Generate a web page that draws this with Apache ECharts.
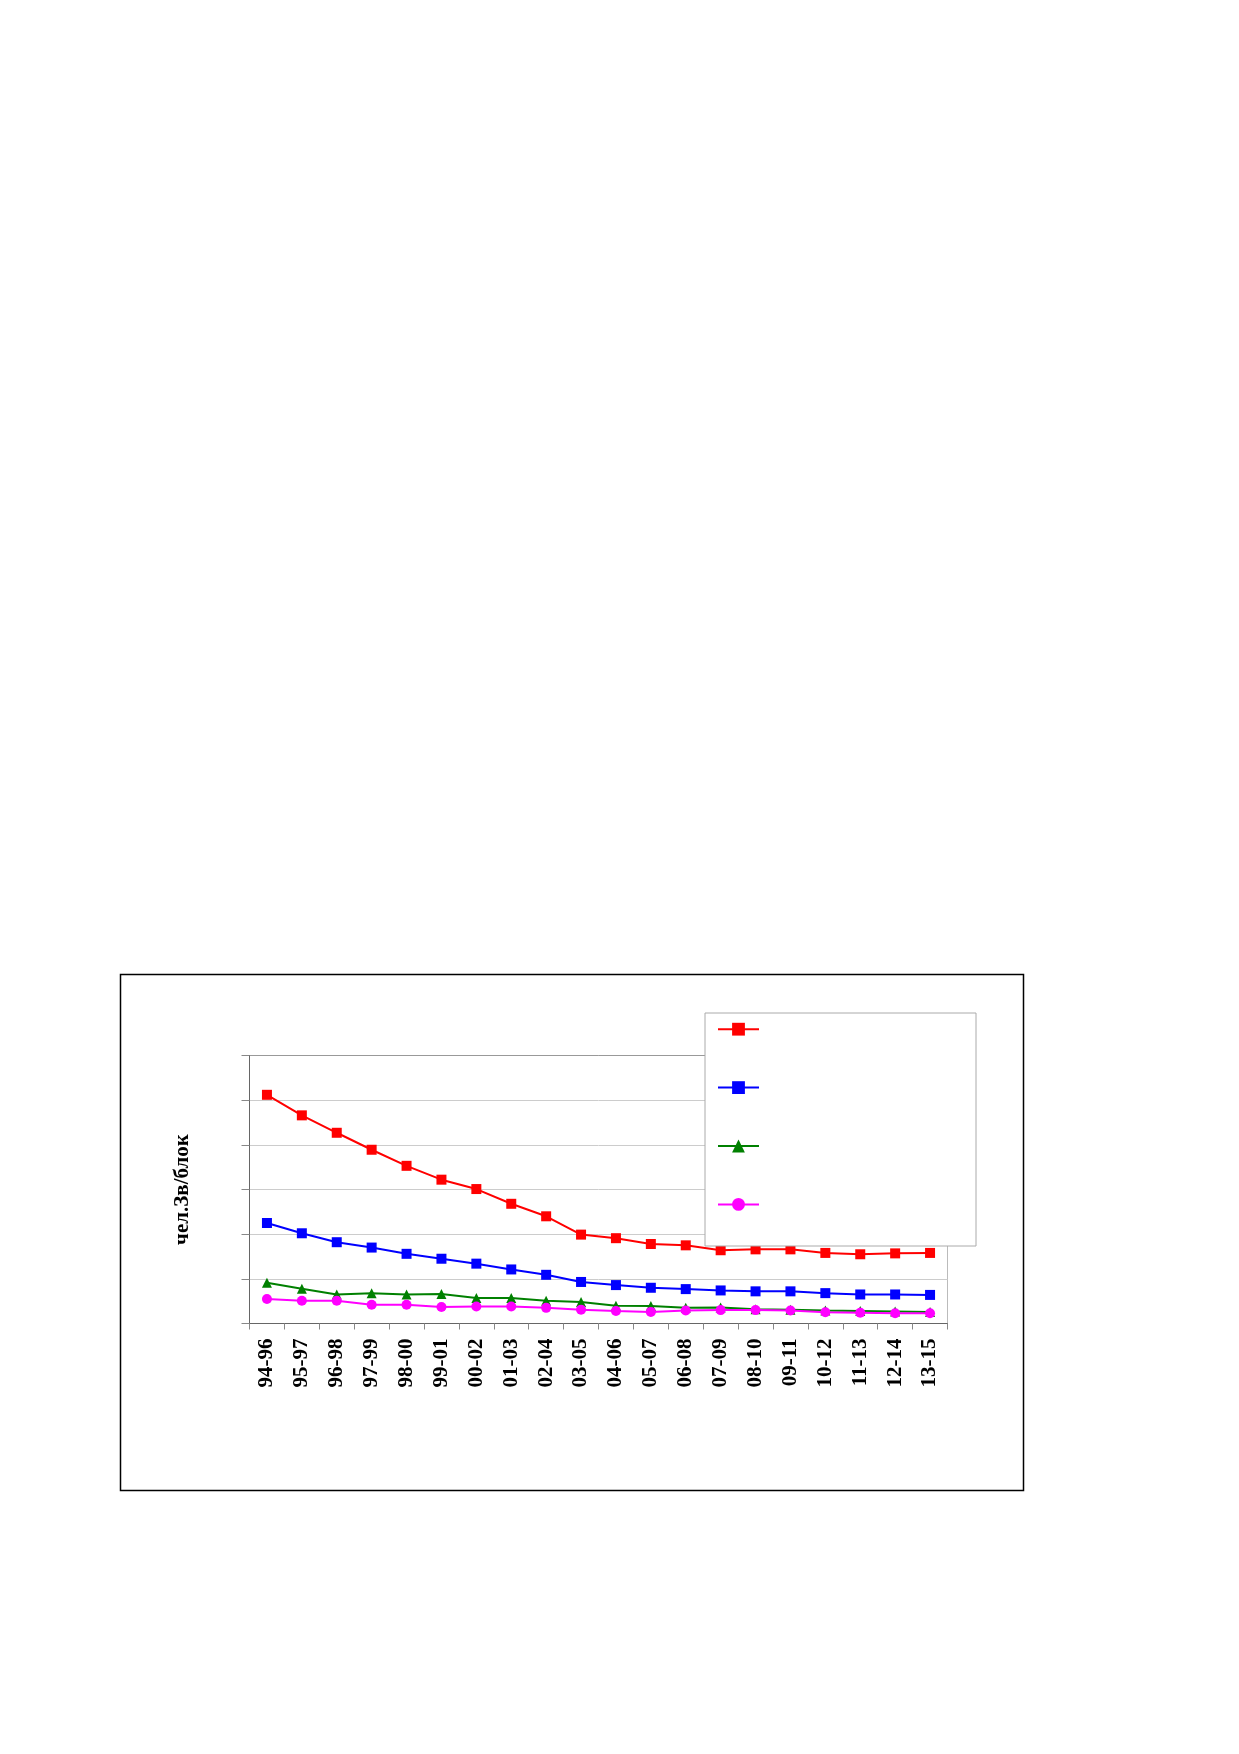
<!DOCTYPE html>
<html>
<head>
<meta charset="utf-8">
<style>
html,body{margin:0;padding:0;background:#fff;}
#chart{width:1239px;height:1754px;}
</style>
<script src="https://cdn.jsdelivr.net/npm/echarts@6/dist/echarts.min.js"></script>
</head>
<body>
<div id="chart"></div>
<script>
const categories = ['94-96','95-97','96-98','97-99','98-00','99-01','00-02','01-03','02-04','03-05','04-06','05-07','06-08','07-09','08-10','09-11','10-12','11-13','12-14','13-15'];
const seriesRed = [5.12,4.66,4.27,3.89,3.53,3.22,3.01,2.68,2.40,1.99,1.91,1.78,1.75,1.64,1.66,1.66,1.58,1.55,1.57,1.58];
const seriesBlue = [2.25,2.02,1.82,1.70,1.56,1.45,1.34,1.21,1.09,0.93,0.86,0.80,0.77,0.74,0.72,0.72,0.68,0.65,0.65,0.64];
const seriesGreen = [0.91,0.78,0.65,0.68,0.65,0.66,0.57,0.57,0.51,0.48,0.40,0.39,0.35,0.36,0.32,0.31,0.29,0.28,0.27,0.26];
const seriesMagenta = [0.55,0.51,0.51,0.42,0.42,0.37,0.38,0.38,0.35,0.31,0.28,0.26,0.29,0.30,0.30,0.29,0.25,0.24,0.23,0.23];
const seriesNames = ['Ряд1','Ряд2','Ряд3','Ряд4'];
const yAxisName = 'чел.Зв/блок';

const chart = echarts.init(document.getElementById('chart'), null, {renderer:'canvas'});
const serif = 'Liberation Serif';
function mk(name, data, color, symbol){
  return {name:name, type:'line', data:data, symbol:symbol, symbolSize:10,
    lineStyle:{color:color, width:2}, itemStyle:{color:color}, animation:false};
}
chart.setOption({
  backgroundColor:'#fff',
  animation:false,
  graphic:[
    {type:'rect', left:118, top:972, shape:{width:903, height:516}, style:{fill:'none', stroke:'#000', lineWidth:1.5}, z:0},
    {type:'rect', left:704.5, top:1012.5, shape:{width:271, height:233}, style:{fill:'#fff', stroke:'#aaa', lineWidth:1}, z:10}
  ],
  grid:{left:249.5, top:1055.5, width:698, height:268, show:true, borderColor:'#bbb', borderWidth:1, backgroundColor:'transparent'},
  legend:{
    show:true, orient:'vertical', left:717, top:1022.8, padding:0, itemWidth:41, itemHeight:16, itemGap:45.6,
    formatter:function(){return '';}, textStyle:{fontSize:12, lineHeight:16}, z:11, data:seriesNames, selectedMode:false
  },
  xAxis:{
    type:'category', data:categories, boundaryGap:true,
    axisLine:{lineStyle:{color:'#666', width:1}},
    axisTick:{show:true, length:6, lineStyle:{color:'#888'}},
    axisLabel:{rotate:90, margin:15, fontFamily:serif, fontWeight:'bold', fontSize:21, color:'#000', interval:0}
  },
  yAxis:{
    type:'value', min:0, max:6, interval:1,
    name:yAxisName, nameLocation:'middle', nameGap:56, nameRotate:90,
    nameTextStyle:{fontFamily:serif, fontWeight:'bold', fontSize:21, color:'#000'},
    axisLine:{show:true, lineStyle:{color:'#666', width:1}},
    axisTick:{show:true, length:8, lineStyle:{color:'#888'}},
    axisLabel:{show:false},
    splitLine:{show:true, lineStyle:{color:['#ccc','#ccc','#ccc','#ccc','#ccc','#ccc','#999'], width:1}}
  },
  series:[
    mk(seriesNames[0], seriesRed, '#ff0000', 'rect'),
    mk(seriesNames[1], seriesBlue, '#0000ff', 'rect'),
    mk(seriesNames[2], seriesGreen, '#008000', 'triangle'),
    mk(seriesNames[3], seriesMagenta, '#ff00ff', 'circle')
  ]
});
</script>
</body>
</html>
